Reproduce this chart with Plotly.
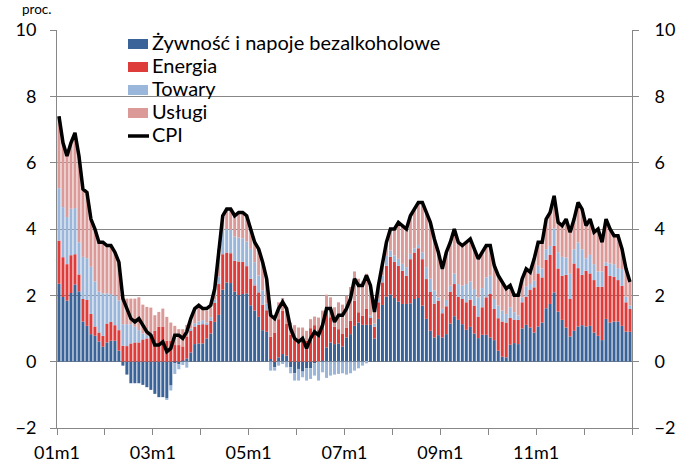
import plotly.graph_objects as go

# ---------------- data ----------------
months = [f"{y:02d}m{m}" for y in range(1, 13) for m in range(1, 13)]
tick_labels = ["01m1", "03m1", "05m1", "07m1", "09m1", "11m1"]

food = [
    2.35, 1.95, 1.84, 2.07, 2.33, 2.12, 1.21, 1.08, 0.83, 0.78, 0.61, 0.45,
    0.58, 0.63, 0.63, 0.33, -0.12, -0.39, -0.65, -0.65, -0.65, -0.70, -0.77, -0.85,
    -0.97, -1.07, -1.07, -1.10, -0.72, -0.05, -0.08, 0.03, 0.10, 0.28, 0.53, 0.55,
    0.55, 0.70, 0.85, 1.20, 1.41, 2.17, 2.39, 2.37, 2.11, 2.01, 2.04, 2.06,
    1.70, 1.54, 1.35, 0.95, 0.90, 0.08, -0.17, 0.13, 0.23, 0.18, -0.17, -0.35,
    -0.22, -0.30, -0.20, -0.20, -0.05, 0.00, 0.03, 0.43, 0.58, 0.53, 0.55, 0.46,
    0.73, 0.83, 1.08, 1.18, 1.11, 1.11, 1.11, 0.70, 1.29, 1.71, 1.96, 2.02,
    1.92, 1.81, 1.74, 1.74, 1.76, 1.89, 1.92, 1.69, 1.29, 0.93, 0.73, 0.80,
    0.73, 0.83, 1.15, 1.37, 1.26, 1.13, 0.96, 1.05, 0.85, 0.71, 0.81, 0.81,
    0.73, 0.65, 0.33, 0.15, 0.13, 0.51, 0.56, 0.53, 1.00, 1.11, 1.03, 0.88,
    1.06, 1.18, 1.61, 1.74, 2.09, 1.51, 1.26, 1.03, 0.76, 0.93, 1.06, 1.10,
    1.06, 1.08, 0.88, 0.78, 0.65, 1.29, 1.18, 1.21, 1.21, 1.08, 0.91, 0.90,
]

energy = [
    1.30, 1.20, 1.10, 1.14, 0.91, 0.51, 0.68, 0.78, 0.61, 0.28, 0.27, 0.33,
    0.57, 0.57, 0.47, 0.62, 0.48, 0.47, 0.55, 0.58, 0.58, 0.67, 0.70, 0.80,
    0.93, 1.05, 1.06, 0.63, 0.63, 0.50, 0.50, 0.43, 0.66, 0.67, 0.53, 0.56,
    0.58, 0.43, 0.38, 0.57, 0.93, 1.07, 0.90, 0.90, 0.93, 1.01, 0.97, 0.82,
    0.80, 0.76, 0.74, 0.77, 0.65, 0.67, 0.88, 1.15, 1.31, 0.97, 0.81, 0.66,
    0.61, 0.64, 0.63, 1.01, 1.10, 0.95, 1.05, 1.11, 0.76, 0.52, 0.43, 0.39,
    0.30, 0.40, 0.76, 0.31, 0.28, 0.48, 0.23, 0.35, 0.50, 0.68, 0.93, 1.14,
    1.09, 1.08, 1.00, 0.85, 1.33, 1.40, 1.50, 1.40, 1.20, 1.17, 1.02, 1.04,
    0.73, 0.84, 0.96, 0.97, 0.70, 0.76, 0.83, 0.82, 0.84, 0.65, 0.83, 1.13,
    1.31, 0.94, 0.98, 1.06, 1.05, 0.81, 0.71, 0.73, 0.79, 0.85, 1.13, 1.36,
    1.60, 1.36, 1.46, 1.48, 1.40, 1.30, 1.33, 1.59, 1.13, 2.03, 1.76, 1.52,
    1.68, 1.58, 1.58, 1.48, 1.61, 1.60, 1.41, 1.35, 1.25, 1.21, 0.88, 0.69,
]

goods = [
    1.58, 1.51, 1.42, 1.40, 1.39, 0.97, 1.27, 1.26, 1.42, 1.36, 1.23, 1.28,
    0.91, 0.84, 0.89, 0.89, 0.65, 0.66, 0.58, 0.47, 0.37, 0.18, 0.10, 0.05,
    0.00, 0.00, 0.00, -0.05, -0.15, -0.32, -0.15, -0.10, -0.18, 0.05, 0.10, 0.10,
    0.12, 0.05, 0.11, 0.10, 0.23, 0.74, 0.71, 0.70, 0.73, 0.72, 0.71, 0.74,
    0.90, 0.70, 0.51, 0.43, 0.20, -0.27, -0.10, -0.12, -0.07, -0.17, -0.18, -0.22,
    -0.35, -0.17, -0.37, -0.32, -0.37, -0.57, -0.32, -0.49, -0.42, -0.39, -0.37, -0.35,
    -0.39, -0.35, -0.27, -0.20, -0.12, -0.05, 0.05, 0.10, 0.11, 0.21, 0.30, 0.19,
    0.19, 0.21, 0.21, 0.26, 0.16, 0.13, 0.10, 0.21, 0.36, 0.40, 0.40, 0.10,
    0.13, 0.19, 0.18, 0.32, 0.38, 0.40, 0.55, 0.55, 0.50, 0.58, 0.58, 0.60,
    0.55, 0.30, 0.38, 0.33, 0.26, 0.32, 0.22, 0.13, 0.15, 0.30, 0.18, 0.20,
    0.23, 0.27, 0.32, 0.27, 0.53, 0.49, 0.57, 0.52, 0.76, 0.43, 0.77, 0.77,
    0.38, 0.56, 0.48, 0.46, 0.46, 0.10, 0.37, 0.38, 0.36, 0.50, 0.17, 0.10,
]

services = [
    2.17, 1.94, 1.84, 1.99, 2.27, 2.60, 2.04, 1.98, 1.44, 1.58, 1.49, 1.54,
    1.44, 1.46, 1.31, 1.16, 0.77, 0.77, 0.77, 0.85, 0.99, 0.87, 0.85, 0.78,
    0.47, 0.45, 0.54, 0.72, 0.55, 0.58, 0.48, 0.52, 0.35, 0.30, 0.42, 0.41,
    0.35, 0.36, 0.30, 0.33, 0.83, 0.42, 0.60, 0.63, 0.63, 0.76, 0.78, 0.78,
    0.60, 0.60, 0.80, 0.85, 0.75, 0.68, 0.40, 0.51, 0.38, 0.49, 0.37, 0.44,
    0.42, 0.39, 0.30, 0.27, 0.26, 0.38, 0.46, 0.48, 0.60, 0.59, 0.81, 0.87,
    0.96, 1.02, 0.88, 1.01, 1.03, 1.06, 0.91, 0.35, 0.40, 0.40, 0.41, 0.65,
    0.80, 1.10, 1.15, 1.15, 1.15, 1.18, 1.28, 1.50, 1.65, 1.70, 1.55, 1.36,
    1.21, 1.44, 1.31, 1.34, 1.26, 1.21, 1.26, 1.28, 1.21, 1.16, 1.08, 0.96,
    0.91, 1.01, 0.91, 0.86, 0.76, 0.66, 0.51, 0.61, 0.56, 0.54, 0.36, 0.66,
    0.71, 0.79, 0.91, 1.01, 0.98, 0.90, 0.94, 1.16, 1.25, 0.91, 1.21, 1.21,
    0.98, 1.08, 0.96, 1.28, 0.88, 1.31, 1.04, 0.86, 0.98, 0.61, 0.84, 0.71,
]

cpi = [
    7.4, 6.6, 6.2, 6.6, 6.9, 6.2, 5.2, 5.1, 4.3, 4.0, 3.6, 3.6,
    3.5, 3.5, 3.3, 3.0, 1.9, 1.6, 1.3, 1.2, 1.3, 1.1, 0.9, 0.8,
    0.5, 0.5, 0.6, 0.3, 0.4, 0.8, 0.8, 0.7, 0.9, 1.3, 1.6, 1.7,
    1.6, 1.6, 1.7, 2.2, 3.4, 4.4, 4.6, 4.6, 4.4, 4.5, 4.5, 4.4,
    4.0, 3.6, 3.4, 3.0, 2.5, 1.4, 1.3, 1.6, 1.8, 1.6, 1.0, 0.7,
    0.6, 0.7, 0.4, 0.7, 0.9, 0.8, 1.1, 1.6, 1.6, 1.2, 1.4, 1.4,
    1.6, 1.9, 2.5, 2.3, 2.3, 2.6, 2.3, 1.5, 2.3, 3.0, 3.6, 4.0,
    4.0, 4.2, 4.1, 4.0, 4.4, 4.6, 4.8, 4.8, 4.5, 4.2, 3.7, 3.3,
    2.8, 3.3, 3.6, 4.0, 3.6, 3.5, 3.6, 3.7, 3.4, 3.1, 3.3, 3.5,
    3.5, 2.9, 2.6, 2.4, 2.2, 2.3, 2.0, 2.0, 2.5, 2.8, 2.7, 3.1,
    3.6, 3.6, 4.3, 4.5, 5.0, 4.2, 4.1, 4.3, 3.9, 4.3, 4.8, 4.6,
    4.1, 4.3, 3.9, 4.0, 3.6, 4.3, 4.0, 3.8, 3.8, 3.4, 2.8, 2.4,
]

series_names = ["Żywność i napoje bezalkoholowe", "Energia", "Towary", "Usługi"]
series_colors = ["#3A6499", "#DE3B3B", "#9AB6DA", "#DB9A98"]
line_name = "CPI"

# ---------------- figure ----------------
W, H = 681, 465
ML, MR, MT, MB = 57, 49, 30, 37
PW, PH = W - ML - MR, H - MT - MB
FONT = "Lato"
GRID = "#878787"


def px_x(p):
    return (p - ML) / PW


def px_y(p):
    return (H - MB - p) / PH


x = list(range(len(months)))

fig = go.Figure()
for name, vals, color in zip(series_names, [food, energy, goods, services], series_colors):
    fig.add_trace(go.Bar(x=x, y=vals, name=name,
                         marker=dict(color=color, line=dict(width=0))))

fig.add_trace(go.Scatter(x=x, y=cpi, name=line_name, mode="lines", yaxis="y2",
                         line=dict(color="black", width=3.5)))

# year boundaries for tick marks, labels every second year
tickvals = [i - 0.5 for i in range(0, len(months) + 1, 12)]
ticktext = [months[i] if i < len(months) and months[i] in tick_labels else ""
            for i in range(0, len(months) + 1, 12)]
yticks = [-2, 0, 2, 4, 6, 8, 10]

# manual legend (swatches + labels) placed like the original
shapes, annotations = [], []
row_y = [44, 67, 90, 113, 136]
sw_x0, sw_x1, txt_x = 128, 148, 150
for k, (name, color) in enumerate(zip(series_names, series_colors)):
    yc = row_y[k]
    shapes.append(dict(type="rect", xref="paper", yref="paper",
                       x0=px_x(sw_x0), x1=px_x(sw_x1),
                       y0=px_y(yc + 5), y1=px_y(yc - 5),
                       fillcolor=color, line=dict(width=0)))
    annotations.append(dict(text=name, xref="paper", yref="paper",
                            x=px_x(txt_x), y=px_y(yc - 2), xanchor="left",
                            yanchor="middle", showarrow=False,
                            font=dict(family=FONT, size=20, color="black")))
yc = row_y[4]
shapes.append(dict(type="line", xref="paper", yref="paper",
                   x0=px_x(sw_x0), x1=px_x(sw_x1 + 1),
                   y0=px_y(yc), y1=px_y(yc),
                   line=dict(color="black", width=3.5)))
annotations.append(dict(text=line_name, xref="paper", yref="paper",
                        x=px_x(txt_x), y=px_y(yc - 2), xanchor="left",
                        yanchor="middle", showarrow=False,
                        font=dict(family=FONT, size=20, color="black")))
annotations.append(dict(text="proc.", xref="paper", yref="paper",
                        x=px_x(20), y=px_y(9), xanchor="left", yanchor="middle",
                        showarrow=False, font=dict(family=FONT, size=13.5)))

fig.update_layout(
    width=W, height=H,
    margin=dict(l=ML, r=MR, t=MT, b=MB, autoexpand=False),
    paper_bgcolor="white", plot_bgcolor="white",
    barmode="relative", bargap=0.25,
    font=dict(family=FONT, size=18, color="black"),
    showlegend=False,
    xaxis=dict(range=[-0.5, len(months) - 0.5], tickmode="array",
               tickvals=tickvals, ticktext=ticktext, automargin=False,
               ticks="outside", ticklen=6, tickcolor=GRID, tickwidth=1,
               showline=True, linecolor=GRID, linewidth=1,
               showgrid=False, zeroline=False, ticklabelstandoff=2,
               tickfont=dict(family=FONT, size=18)),
    yaxis=dict(range=[-2, 10], tickmode="array", tickvals=yticks, automargin=False,
               ticks="outside", ticklen=6, tickcolor=GRID,
               showline=True, linecolor=GRID, linewidth=1,
               showgrid=True, gridcolor=GRID, gridwidth=1,
               zeroline=True, zerolinecolor=GRID, zerolinewidth=1,
               ticklabelstandoff=10, tickfont=dict(family=FONT, size=18)),
    yaxis2=dict(range=[-2, 10], overlaying="y", side="right", automargin=False,
                tickmode="array", tickvals=yticks,
                ticks="outside", ticklen=6, tickcolor=GRID,
                showline=True, linecolor=GRID, linewidth=1,
                showgrid=False, zeroline=False,
                ticklabelstandoff=12, tickfont=dict(family=FONT, size=18)),
    shapes=shapes,
    annotations=annotations,
)

fig.write_html("out.html")
